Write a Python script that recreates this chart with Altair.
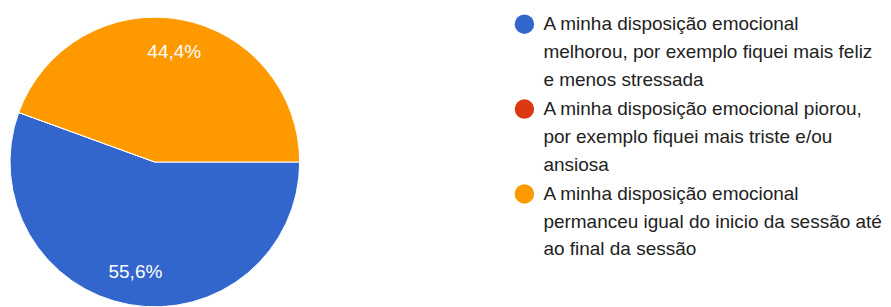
import math
import altair as alt
import pandas as pd

categories = [
    "A minha disposição emocional|melhorou, por exemplo fiquei mais feliz|e menos stressada",
    "A minha disposição emocional piorou,|por exemplo fiquei mais triste e/ou|ansiosa",
    "A minha disposição emocional|permanceu igual do inicio da sessão até|ao final da sessão",
]
counts = [5, 0, 4]
percent_labels = ["55,6%", "0%", "44,4%"]
colors = ["#3366cc", "#dc3912", "#ff9900"]

df = pd.DataFrame({
    "cat": categories,
    "value": counts,
    "label": percent_labels,
    "idx": list(range(len(categories))),
})

FONT = "Liberation Sans"

theta = alt.Theta("value:Q", stack=True,
                  scale=alt.Scale(range=[math.pi / 2, math.pi / 2 + 2 * math.pi]))
color = alt.Color(
    "cat:N",
    scale=alt.Scale(domain=categories, range=colors),
    sort=None,
    legend=alt.Legend(
        title=None,
        orient="none",
        legendX=507,
        legendY=6,
        symbolType="circle",
        symbolSize=380,
        symbolStrokeWidth=0,
        labelExpr="split(datum.label, '|')",
        labelFont=FONT,
        labelFontSize=19,
        labelColor="#222222",
        labelLimit=500,
        labelOffset=9,
        rowPadding=9,
        padding=0,
    ),
)

base = alt.Chart(df)

pie = base.mark_arc(radius=145, stroke="white", strokeWidth=1).encode(
    theta=theta,
    color=color,
    order=alt.Order("idx:Q"),
)

text = base.transform_filter("datum.value > 0").mark_text(
    radius=112, fontSize=19, font=FONT, color="white"
).encode(
    theta=theta,
    text="label:N",
    order=alt.Order("idx:Q"),
)

chart = (pie + text).properties(
    width=294, height=308,
    padding={"left": 0, "top": 0, "right": 0, "bottom": 0},
).configure_view(stroke=None).configure(
    style={"guide-label": {"lineHeight": 27.8}}
)

chart.save("out.html", embed_options={"renderer": "svg", "actions": False})
